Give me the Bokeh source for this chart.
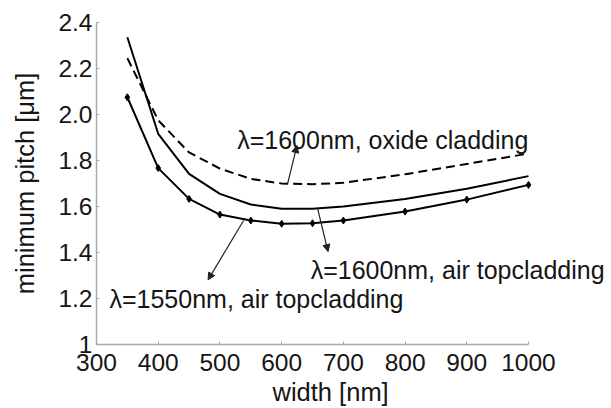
from bokeh.plotting import figure
from bokeh.models import Range1d, FixedTicker, Arrow, NormalHead, Label, Title
from bokeh.embed import file_html
from bokeh.resources import INLINE

widths = [350, 400, 450, 500, 550, 600, 650, 700, 800, 900, 1000]
air1550 = [2.075, 1.767, 1.633, 1.565, 1.539, 1.525, 1.527, 1.539, 1.578, 1.630, 1.694]
air1600 = [2.336, 1.916, 1.742, 1.655, 1.609, 1.590, 1.590, 1.600, 1.633, 1.677, 1.732]
oxide1600 = [2.245, 1.975, 1.835, 1.765, 1.720, 1.700, 1.697, 1.703, 1.740, 1.785, 1.830]

x_ticks = [300, 400, 500, 600, 700, 800, 900, 1000]
y_ticks = [1, 1.2, 1.4, 1.6, 1.8, 2.0, 2.2, 2.4]
y_tick_labels = ["1", "1.2", "1.4", "1.6", "1.8", "2.0", "2.2", "2.4"]

labels = ["λ=1600nm, oxide cladding", "λ=1600nm, air topcladding", "λ=1550nm, air topcladding"]
label_pos = [(528, 1.887), (647, 1.322), (321, 1.200)]
arrows = [((609.7, 1.699), (624.8, 1.865)),
          ((658.4, 1.590), (675.2, 1.404)),
          ((538.3, 1.539), (480.8, 1.281))]

FONT = "Liberation Sans"
TXT = "#151515"
AX = "#a8a8a8"

W, H = 611, 408
LEFT, TOP, BOTTOM_PX = 96, 22, 344
XPX = 432 / 700.0
x_end = 300 + (W - LEFT) / XPX

p = figure(width=W, height=H, output_backend="svg", toolbar_location=None,
           x_range=Range1d(300, x_end), y_range=Range1d(1, 2.4),
           min_border_left=LEFT, min_border_right=0, min_border_top=TOP,
           min_border_bottom=H - BOTTOM_PX)
p.outline_line_color = None
p.xgrid.visible = False
p.ygrid.visible = False
p.background_fill_color = "white"
p.border_fill_color = "white"

for ax in (p.xaxis[0], p.yaxis[0]):
    ax.axis_line_color = AX
    ax.axis_line_width = 1.5
    ax.major_tick_line_color = AX
    ax.major_tick_out = 0
    ax.major_tick_in = 3
    ax.minor_tick_line_color = None
    ax.major_label_text_font = FONT
    ax.major_label_text_font_size = "24.5px"
    ax.major_label_text_color = TXT

p.xaxis[0].bounds = (300, 1000)
p.xaxis[0].ticker = FixedTicker(ticks=x_ticks)
p.yaxis[0].ticker = FixedTicker(ticks=y_ticks)
p.yaxis[0].major_label_overrides = {t: s for t, s in zip(y_ticks, y_tick_labels)}
p.xaxis[0].major_label_standoff = 9
p.yaxis[0].major_label_standoff = 4

p.yaxis[0].axis_label = "minimum pitch [μm]"
p.yaxis[0].axis_label_text_font = FONT
p.yaxis[0].axis_label_text_font_size = "25.5px"
p.yaxis[0].axis_label_text_font_style = "normal"
p.yaxis[0].axis_label_text_color = TXT
p.yaxis[0].axis_label_standoff = 16

p.add_layout(Title(text="width [nm]", align="left", offset=176, text_font=FONT,
                   text_font_size="25.5px", text_font_style="normal", text_color=TXT,
                   standoff=5), "below")

p.line(widths, oxide1600, line_color="black", line_width=2, line_dash="9 5")
p.line(widths, air1600, line_color="black", line_width=2)
p.line(widths, air1550, line_color="black", line_width=2)
p.scatter(widths, air1550, marker="diamond", size=7, color="black")

for (x0, y0), (x1, y1) in arrows:
    p.add_layout(Arrow(x_start=x0, y_start=y0, x_end=x1, y_end=y1,
                       line_color="#222222", line_width=1.2,
                       end=NormalHead(size=7, fill_color="#222222", line_color="#222222")))

for txt, (lx, ly) in zip(labels, label_pos):
    p.add_layout(Label(x=lx, y=ly, text=txt, text_font=FONT, text_font_size="25px",
                       text_color=TXT, text_align="left", text_baseline="alphabetic"))

open("out.html", "w").write(file_html(p, INLINE))
